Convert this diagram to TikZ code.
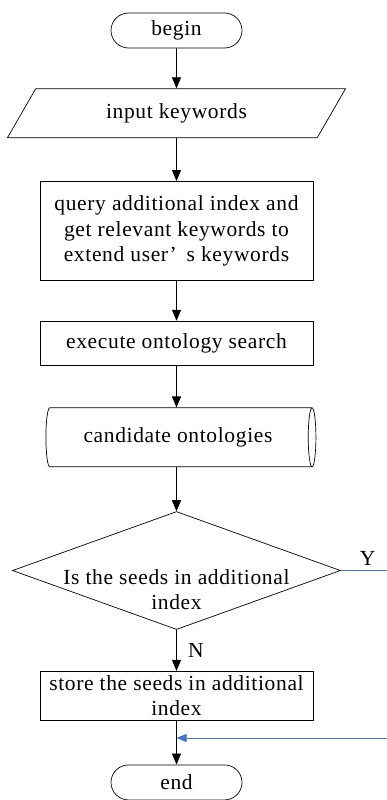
\documentclass[tikz,border=0pt]{standalone}
\usepackage{fontspec}
\setmainfont{Liberation Serif}[LetterSpace=3]
\usepackage{tikz}
\usetikzlibrary{arrows.meta}
\usetikzlibrary{positioning}
\usetikzlibrary{shapes.geometric}
\usetikzlibrary{shapes.misc}
\definecolor{linkblue}{RGB}{68,114,196}

\begin{document}
\begin{tikzpicture}[
  x=1pt,y=-1pt,
  ->,>={Triangle[length=11pt,width=9pt]},line width=0.7pt,
  flowtext/.style={font=\fontsize{21.5}{25.5}\selectfont,align=center},
  flowbox/.style={draw,flowtext,inner sep=3pt},
  terminal/.style={flowbox,rounded rectangle,minimum width=137pt,minimum height=35pt},
  io/.style={flowbox,trapezium,trapezium left angle=60,trapezium right angle=120,minimum width=285pt,minimum height=49pt},
  process/.style={flowbox,rectangle,minimum width=273pt},
  storage/.style={flowbox,cylinder,aspect=0.3,minimum width=59pt,minimum height=270pt},
  decision/.style={draw,diamond,minimum width=328pt,minimum height=118pt,inner sep=0pt}]

     \useasboundingbox (0,0) rectangle (387,800);

     \node [terminal] (begin) at (176.5,30.5) {begin};
     \node [io,below=40pt of begin] (input) {input keywords};
     \node [process,below=43pt of input,minimum height=99pt] (query)
	{query additional index and\\get relevant keywords to\\extend user’\hspace{10pt}s\hspace{6pt}keywords};
     \node [process,below=40pt of query,minimum height=44pt] (exec) {execute ontology search};
     \node [storage,below=42pt of exec,xshift=1.5pt] (cand) {candidate ontologies};
     \node [decision,below=44pt of cand,xshift=-1.5pt] (seed) {};
     \node [flowtext] (seedtext) at ([yshift=-19pt]seed.center) {Is the seeds in additional\\index};
     \node [process,below=41pt of seed,minimum height=49pt,inner ysep=1pt] (store)
	{store the seeds in additional\\index};
     \node [terminal,below=44pt of store] (finish) {end};

     \coordinate (back) at (387,738);
     \coordinate (yes) at (seed.east -| back);

     \draw (begin) -- (input);
     \draw (input) -- (query);
     \draw (query) -- (exec);
     \draw (exec.south) -- (exec.south |- cand.north);
     \draw (seed.north |- cand.south) -- (seed.north);
     \draw (seed) -- node[flowtext,right,xshift=8pt] (nlab) {N} (store);
     \draw (store) -- (finish);

     % way back from the Y branch
     \draw[-,linkblue] (seed.east) -- node[flowtext,text=black,above,pos=0.58,inner sep=5pt] (ylab) {Y} (yes);
     \draw[linkblue,-{Triangle[length=10pt,width=8pt]}] (back) -- (back -| store.south);

\end{tikzpicture}
\end{document}
